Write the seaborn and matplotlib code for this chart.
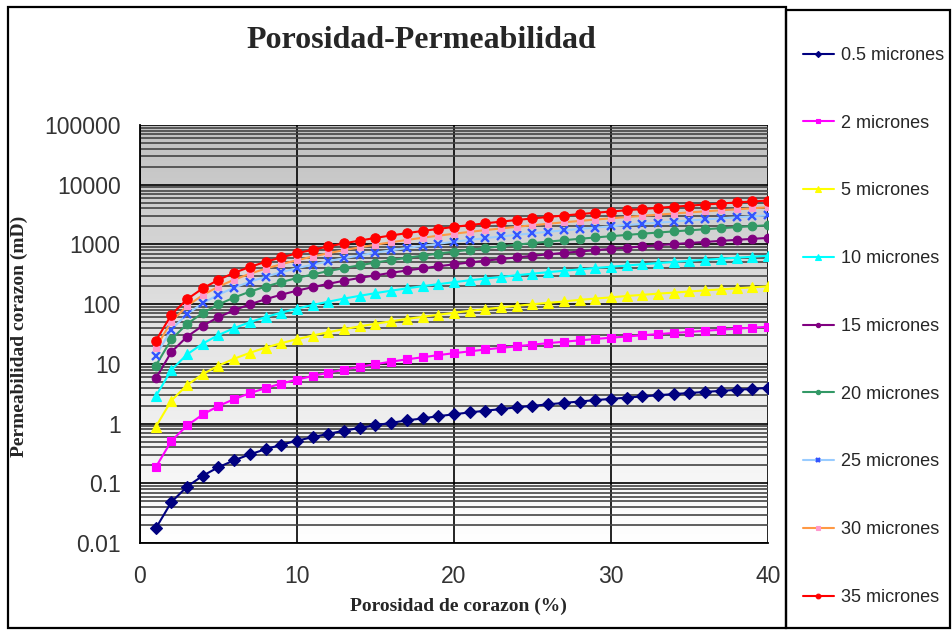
import numpy as np
import pandas as pd
import matplotlib
matplotlib.use("Agg")
import matplotlib.pyplot as plt
import seaborn as sns
from matplotlib.ticker import FixedLocator, LogLocator, NullFormatter
from matplotlib.patches import Rectangle

# ---- data -------------------------------------------------------------
porosidad = list(range(1, 41))  # %

k_05 = [0.0175, 0.0485, 0.0879, 0.134, 0.186, 0.243, 0.305, 0.372, 0.442, 0.516,
        0.593, 0.674, 0.759, 0.846, 0.936, 1.03, 1.13, 1.22, 1.33, 1.43,
        1.54, 1.64, 1.75, 1.87, 1.98, 2.10, 2.22, 2.34, 2.47, 2.59,
        2.72, 2.85, 2.98, 3.12, 3.25, 3.39, 3.53, 3.67, 3.81, 3.96]
k_2 = [0.185, 0.512, 0.929, 1.42, 1.97, 2.57, 3.23, 3.93, 4.67, 5.45,
       6.27, 7.12, 8.01, 8.94, 9.89, 10.9, 11.9, 12.9, 14.0, 15.1,
       16.2, 17.4, 18.5, 19.7, 21.0, 22.2, 23.5, 24.7, 26.1, 27.4,
       28.7, 30.1, 31.5, 32.9, 34.3, 35.8, 37.3, 38.8, 40.3, 41.8]
k_5 = [0.879, 2.43, 4.42, 6.74, 9.35, 12.2, 15.3, 18.7, 22.2, 25.9,
       29.8, 33.9, 38.1, 42.5, 47.0, 51.7, 56.5, 61.4, 66.5, 71.7,
       77.1, 82.5, 88.1, 93.8, 99.6, 105, 111, 118, 124, 130,
       137, 143, 150, 156, 163, 170, 177, 184, 191, 199]
k_10 = [2.86, 7.91, 14.4, 21.9, 30.4, 39.7, 49.9, 60.7, 72.1, 84.2,
        96.9, 110, 124, 138, 153, 168, 184, 200, 216, 233,
        251, 268, 286, 305, 324, 343, 362, 382, 403, 423,
        444, 465, 487, 509, 531, 553, 576, 599, 622, 646]
k_15 = [5.69, 15.8, 28.6, 43.6, 60.5, 79.2, 99.3, 121, 144, 168,
        193, 219, 247, 275, 304, 335, 366, 398, 431, 464,
        499, 534, 570, 607, 645, 683, 722, 761, 802, 842,
        884, 926, 970, 1013, 1057, 1102, 1147, 1193, 1239, 1286]
k_20 = [9.29, 25.7, 46.7, 71.2, 98.8, 129, 162, 197, 234, 274,
        315, 358, 402, 449, 497, 546, 597, 649, 703, 758,
        814, 872, 930, 991, 1052, 1114, 1177, 1242, 1308, 1374,
        1443, 1512, 1582, 1653, 1724, 1798, 1871, 1946, 2022, 2098]
k_25 = [13.6, 37.6, 68.2, 104, 144, 189, 237, 288, 343, 400,
        460, 523, 588, 656, 726, 798, 872, 949, 1027, 1108,
        1190, 1274, 1360, 1448, 1537, 1628, 1721, 1816, 1912, 2008,
        2109, 2209, 2312, 2415, 2520, 2627, 2734, 2844, 2956, 3067]
k_30 = [18.5, 51.2, 92.9, 142, 197, 257, 323, 393, 467, 545,
        627, 713, 802, 894, 990, 1088, 1189, 1294, 1400, 1510,
        1622, 1737, 1854, 1974, 2096, 2220, 2346, 2475, 2607, 2738,
        2875, 3012, 3152, 3293, 3435, 3582, 3728, 3878, 4029, 4181]
k_35 = [24.1, 66.6, 121, 184, 256, 335, 420, 511, 607, 709,
        815, 927, 1042, 1162, 1286, 1414, 1546, 1682, 1820, 1963,
        2109, 2258, 2410, 2566, 2725, 2886, 3050, 3218, 3389, 3559,
        3737, 3915, 4098, 4281, 4466, 4656, 4846, 5041, 5238, 5435]

series_labels = ["0.5 micrones", "2 micrones", "5 micrones", "10 micrones",
                 "15 micrones", "20 micrones", "25 micrones", "30 micrones",
                 "35 micrones"]
series_values = [k_05, k_2, k_5, k_10, k_15, k_20, k_25, k_30, k_35]

y_tick_values = [0.01, 0.1, 1, 10, 100, 1000, 10000, 100000]
y_tick_labels = ["0.01", "0.1", "1", "10", "100", "1000", "10000", "100000"]
x_tick_values = [0, 10, 20, 30, 40]
x_tick_labels = ["0", "10", "20", "30", "40"]

titulo = "Porosidad-Permeabilidad"
etiqueta_x = "Porosidad de corazon (%)"
etiqueta_y = "Permeabilidad corazon (mD)"

# ---- styles -----------------------------------------------------------
styles = [
    dict(color="#000080", marker="D", ms=6.2, mfc="#000080", mec="#000080"),
    dict(color="#FF00FF", marker="s", ms=6.2, mfc="#FF00FF", mec="#FF00FF"),
    dict(color="#FFFF00", marker="^", ms=7.5, mfc="#FFFF00", mec="#FFFF00"),
    dict(color="#00FFFF", marker="^", ms=7.5, mfc="#00FFFF", mec="#00FFFF"),
    dict(color="#800080", marker="o", ms=6.2, mfc="#800080", mec="#800080"),
    dict(color="#339966", marker="o", ms=6.2, mfc="#339966", mec="#339966"),
    dict(color="#99CCFF", marker="x", ms=6.0, mfc="#3355FF", mec="#3355FF"),
    dict(color="#FF9944", marker="s", ms=5.0, mfc="#FF99CC", mec="#FF99CC"),
    dict(color="#FF0000", marker="o", ms=6.8, mfc="#FF0000", mec="#FF0000"),
]

sns.set_style("white")
plt.rcParams["font.family"] = ["Liberation Sans", "DejaVu Sans"]

df = pd.DataFrame({
    "porosidad": np.tile(porosidad, len(series_labels)),
    "k": np.concatenate([np.asarray(v, dtype=float) for v in series_values]),
    "serie": np.repeat(series_labels, len(porosidad)),
})

W, H = 953, 630
fig = plt.figure(figsize=(W / 100, H / 100), dpi=100)
fig.patch.set_facecolor("white")

x0, x1, y0, y1 = 140, 768, 125, 543
ax = fig.add_axes([x0 / W, 1 - y1 / H, (x1 - x0) / W, (y1 - y0) / H])

# plot-area gradient fill (gray at top fading to white)
grad = np.linspace(0.0, 1.0, 256).reshape(-1, 1)
ax.imshow(grad, extent=[0, 1, 0, 1], transform=ax.transAxes, aspect="auto",
          cmap=matplotlib.colors.LinearSegmentedColormap.from_list(
              "fondo", ["#ffffff", "#e4e4e4", "#c0c0c0"]),
          origin="lower", zorder=0, interpolation="bilinear")

for label, st in zip(series_labels, styles):
    sub = df[df["serie"] == label]
    sns.lineplot(data=sub, x="porosidad", y="k", ax=ax, color=st["color"],
                 marker=st["marker"], markersize=st["ms"],
                 markerfacecolor=st["mfc"], markeredgecolor=st["mec"],
                 markeredgewidth=1.7 if st["marker"] == "x" else 0.8,
                 linewidth=1.5, label=label, zorder=5, estimator=None)

ax.set_yscale("log")
ax.set_xlim(0, 40)
ax.set_ylim(0.01, 100000)

ax.yaxis.set_major_locator(FixedLocator(y_tick_values))
ax.set_yticklabels(y_tick_labels)
ax.yaxis.set_minor_locator(LogLocator(base=10, subs=np.arange(2, 10), numticks=100))
ax.yaxis.set_minor_formatter(NullFormatter())
ax.xaxis.set_major_locator(FixedLocator(x_tick_values))
ax.set_xticklabels(x_tick_labels)

ax.grid(which="major", axis="both", color="#000000", linewidth=1.2, zorder=2)
ax.grid(which="minor", axis="y", color="#444444", linewidth=1.2, zorder=1)
ax.set_axisbelow(True)

ax.tick_params(axis="both", which="major", direction="out", length=6,
               width=1.2, color="#000000", labelsize=16.5, labelcolor="#333333")
ax.tick_params(axis="y", which="major", pad=8)
ax.tick_params(axis="x", which="major", pad=10)
ax.tick_params(axis="y", which="minor", length=0)

for side in ("top", "right"):
    ax.spines[side].set_visible(False)
for side in ("left", "bottom"):
    ax.spines[side].set_color("#000000")
    ax.spines[side].set_linewidth(1.3)

ax.set_xlabel(etiqueta_x, family="Liberation Serif", weight="bold", fontsize=14)
ax.set_ylabel(etiqueta_y, family="Liberation Serif", weight="bold", fontsize=14)
ax.xaxis.set_label_coords((458 - x0) / (x1 - x0), (y1 - 598) / (y1 - y0))
ax.yaxis.set_label_coords((28 - x0) / (x1 - x0), (y1 - 336) / (y1 - y0))

fig.text(421 / W, 1 - 40 / H, titulo, family="Liberation Serif",
         weight="bold", fontsize=23, ha="center", va="center")

# chart frame and legend frame
fig.add_artist(Rectangle((8 / W, 1 - 628 / H), (786 - 8) / W, (628 - 7) / H,
                         transform=fig.transFigure, fill=False,
                         edgecolor="#000000", linewidth=1.6))
fig.add_artist(Rectangle((786 / W, 1 - 628 / H), (950 - 786) / W, (628 - 10) / H,
                         transform=fig.transFigure, fill=False,
                         edgecolor="#000000", linewidth=1.6))

handles, labels = ax.get_legend_handles_labels()
if ax.get_legend() is not None:
    ax.get_legend().remove()
fig.legend(handles, labels, loc="upper left",
           bbox_to_anchor=(803 / W, 1 - 47 / H), frameon=False,
           prop={"family": "Liberation Sans", "size": 13},
           labelspacing=2.81, handlelength=1.7, handletextpad=0.4,
           borderaxespad=0, borderpad=0, markerscale=0.5)

fig.savefig("out.png", dpi=100)
